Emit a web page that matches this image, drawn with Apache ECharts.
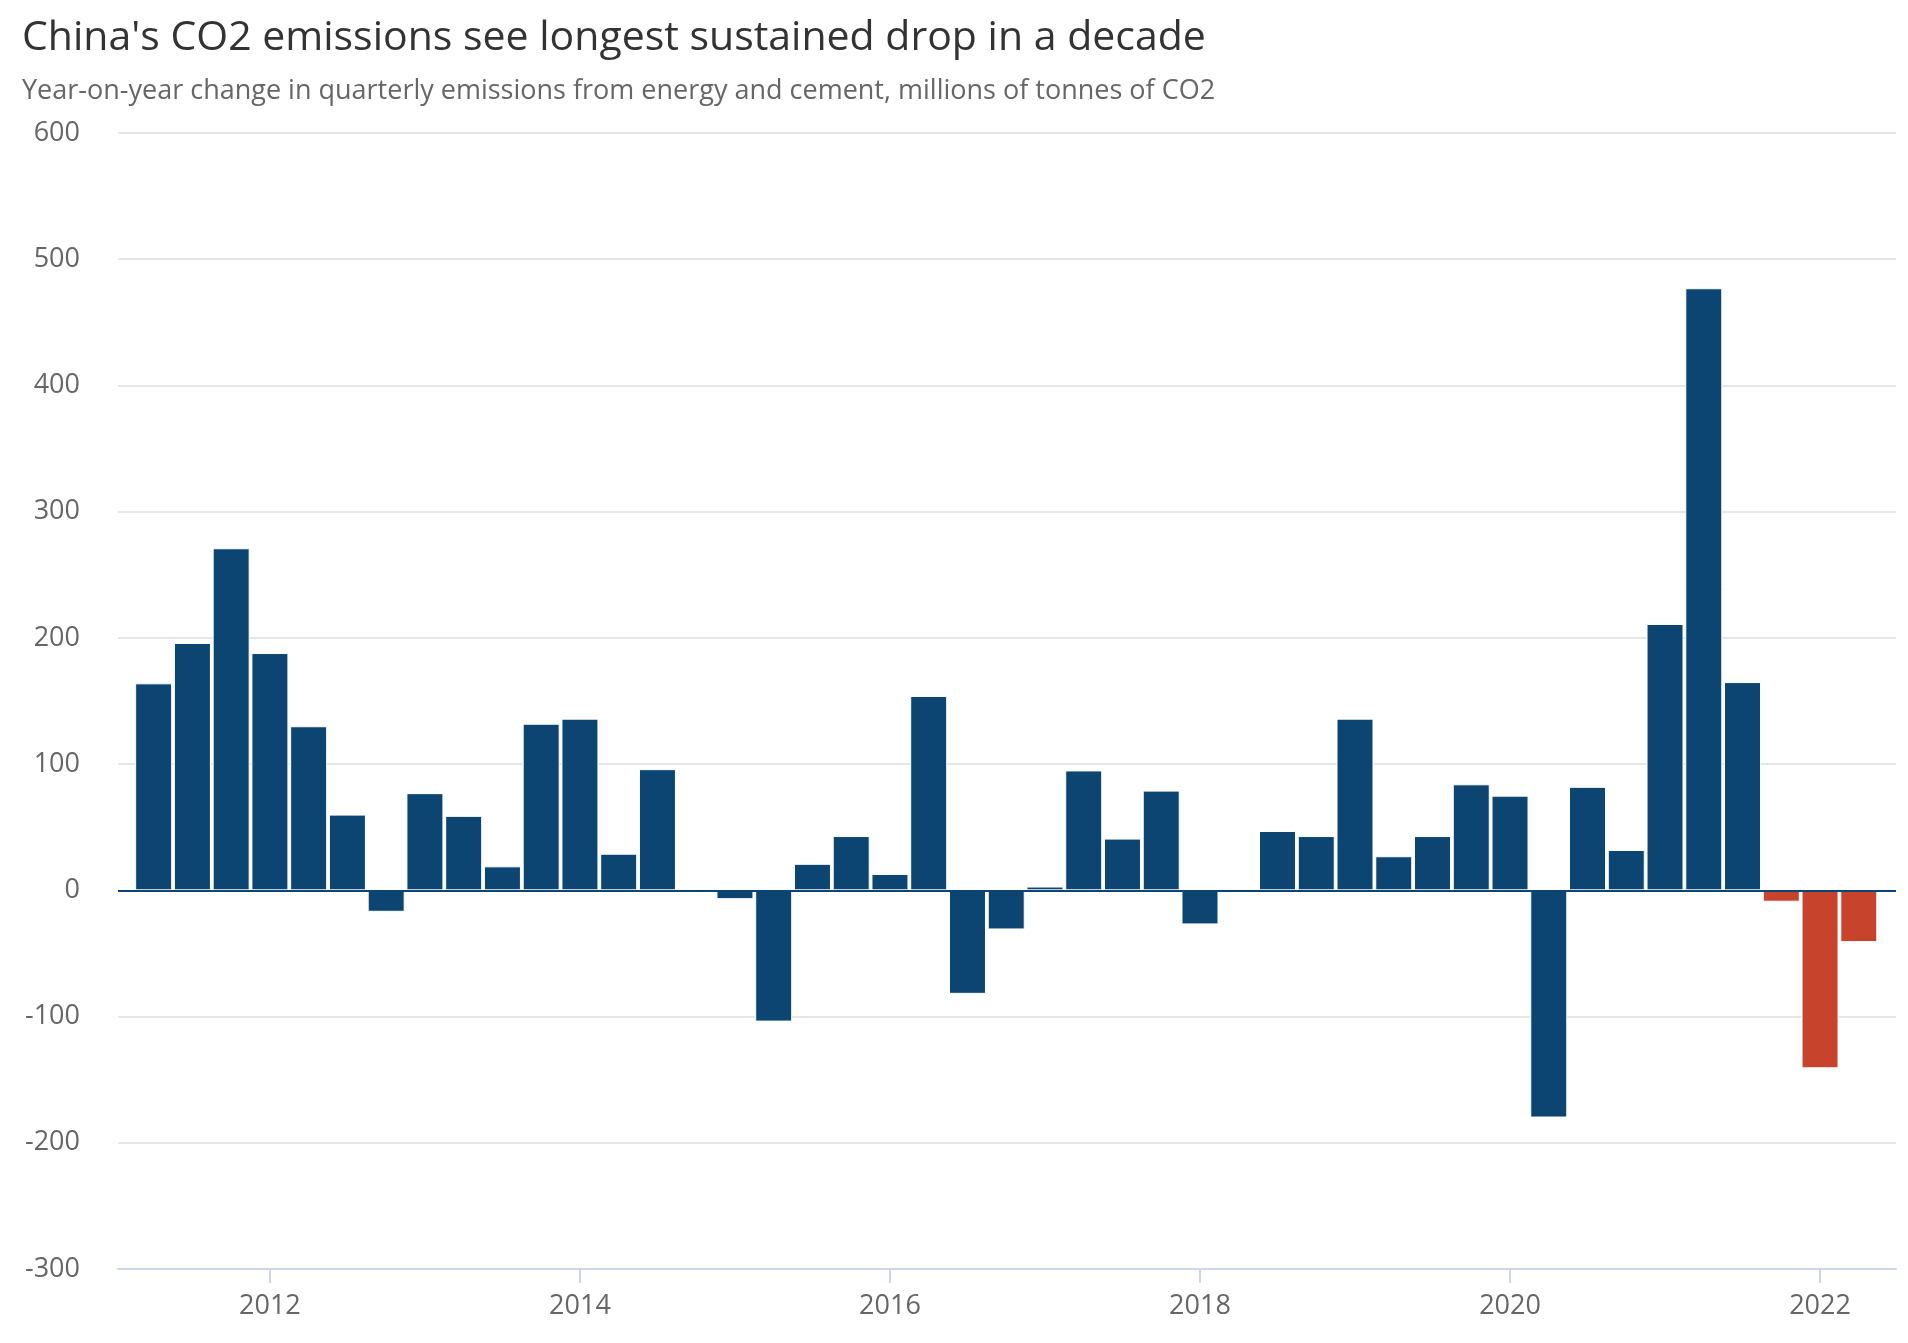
<!DOCTYPE html>
<html>
<head>
<meta charset="utf-8">
<script src="https://cdn.jsdelivr.net/npm/echarts@6/dist/echarts.min.js"></script>
<style>
html,body{margin:0;padding:0;background:#fff;}
#chart{width:1908px;height:1343px;}
</style>
</head>
<body>
<div id="chart"></div>
<script>
const quarters = [
  '2011 Q1','2011 Q2','2011 Q3','2011 Q4',
  '2012 Q1','2012 Q2','2012 Q3','2012 Q4',
  '2013 Q1','2013 Q2','2013 Q3','2013 Q4',
  '2014 Q1','2014 Q2','2014 Q3','2014 Q4',
  '2015 Q1','2015 Q2','2015 Q3','2015 Q4',
  '2016 Q1','2016 Q2','2016 Q3','2016 Q4',
  '2017 Q1','2017 Q2','2017 Q3','2017 Q4',
  '2018 Q1','2018 Q2','2018 Q3','2018 Q4',
  '2019 Q1','2019 Q2','2019 Q3','2019 Q4',
  '2020 Q1','2020 Q2','2020 Q3','2020 Q4',
  '2021 Q1','2021 Q2','2021 Q3','2021 Q4',
  '2022 Q1'
];
const emissionsChange = [
  164, 196, 271, 188,
  130, 60, -17, 77,
  59, 19, 132, 136,
  29, 96, 1, -7,
  -104, 21, 43, 13,
  154, -82, -31, 3,
  95, 41, 79, -27,
  1, 47, 43, 136,
  27, 43, 84, 75,
  -180, 82, 32, 211,
  477, 165, -9, -141,
  -41
];
const declineStreak = ['2021 Q3','2021 Q4','2022 Q1'];
const xTickYears = [2012, 2014, 2016, 2018, 2020, 2022];
const yTicks = [-300, -200, -100, 0, 100, 200, 300, 400, 500, 600];

const titleText = "China's CO2 emissions see longest sustained drop in a decade";
const subtitleText = 'Year-on-year change in quarterly emissions from energy and cement, millions of tonnes of CO2';

function quarterEnd(q) {
  const parts = q.split(' Q');
  return Number(parts[0]) + Number(parts[1]) / 4;
}

const NAVY = '#0c4571';
const RED = '#c7432c';
const FONT = '"Open Sans", "Noto Sans", sans-serif';

const seriesData = quarters.map((q, i) => ({
  value: [quarterEnd(q), emissionsChange[i]],
  name: q,
  itemStyle: { color: declineStreak.indexOf(q) >= 0 ? RED : NAVY }
}));

const chart = echarts.init(document.getElementById('chart'), null, { renderer: 'canvas' });
chart.setOption({
  animation: false,
  backgroundColor: '#ffffff',
  title: [
    { text: titleText, left: 17, top: 13,
      textStyle: { fontFamily: FONT, fontSize: 41, fontWeight: 'normal', color: '#333333' } },
    { text: subtitleText, left: 17, top: 73,
      textStyle: { fontFamily: FONT, fontSize: 27, fontWeight: 'normal', color: '#666666' } }
  ],
  grid: { left: 118, right: 12, top: 133, bottom: 74, containLabel: false },
  xAxis: {
    type: 'value',
    min: 2011.02,
    max: 2022.49,
    axisLine: { show: true, onZero: false, lineStyle: { color: '#ccd6eb', width: 2 } },
    axisTick: { show: true, customValues: xTickYears, length: 14, lineStyle: { color: '#ccd6eb', width: 2 } },
    axisLabel: { customValues: xTickYears, formatter: v => String(v), color: '#666666',
      fontFamily: FONT, fontSize: 27, margin: 24 },
    splitLine: { show: false }
  },
  yAxis: {
    type: 'value',
    min: yTicks[0],
    max: yTicks[yTicks.length - 1],
    interval: 100,
    axisLine: { show: false },
    axisTick: { show: false },
    axisLabel: { color: '#666666', fontFamily: FONT, fontSize: 27, margin: 38 },
    splitLine: { lineStyle: { color: '#e6e6e6', width: 2 } }
  },
  series: [{
    type: 'bar',
    data: seriesData,
    barWidth: 37,
    itemStyle: { borderColor: '#ffffff', borderWidth: 1 },
    markLine: {
      silent: true,
      symbol: 'none',
      label: { show: false },
      lineStyle: { color: NAVY, width: 2, type: 'solid' },
      data: [{ yAxis: 0 }]
    }
  }]
});
</script>
</body>
</html>
